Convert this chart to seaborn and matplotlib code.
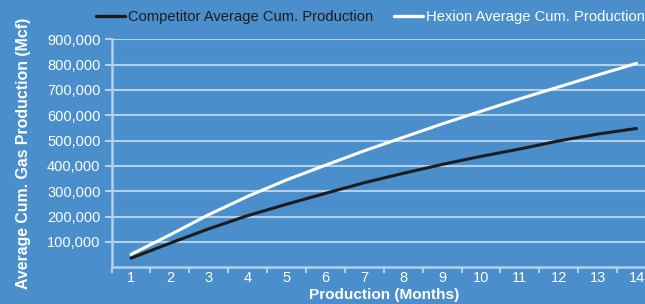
import matplotlib
matplotlib.use("Agg")
import matplotlib.pyplot as plt
import seaborn as sns
import pandas as pd
from matplotlib.ticker import FuncFormatter

months = list(range(1, 15))
competitor = [36000, 95000, 152000, 204000, 249000, 292000, 334000, 371000, 406000, 438000, 467000, 499000, 526000, 548000]
hexion = [51000, 128000, 208000, 280000, 345000, 403000, 460000, 513000, 566000, 616000, 665000, 712000, 759000, 805000]
series_names = ["Competitor Average Cum. Production", "Hexion Average Cum. Production"]
y_ticks = [100000, 200000, 300000, 400000, 500000, 600000, 700000, 800000, 900000]

BG = "#4a8fcb"
GRID = "#b3cfea"
FONT = ["Liberation Sans", "DejaVu Sans"]

df = pd.DataFrame({
    "Month": months * 2,
    "Value": competitor + hexion,
    "Series": [series_names[0]] * len(months) + [series_names[1]] * len(months),
})

sns.set_theme(style="white")
plt.rcParams["font.family"] = FONT

fig = plt.figure(figsize=(6.45, 3.04), dpi=100)
fig.patch.set_facecolor(BG)
ax = fig.add_axes([0.173, 0.1207, 0.844, 0.75])
ax.set_facecolor(BG)

for y in y_ticks:
    ax.axhline(y, color=GRID, lw=1.5, zorder=0)

sns.lineplot(data=df, x="Month", y="Value", hue="Series",
             palette={series_names[0]: "#1c1c1c", series_names[1]: "white"},
             linewidth=2.2, ax=ax, legend=True, zorder=3)

ax.set_xlim(0.5, 14.5)
ax.set_ylim(0, 900000)
ax.set_xticks(months)
ax.set_xticks([m + 0.5 for m in range(0, 14)], minor=True)
ax.set_yticks(y_ticks)
ax.yaxis.set_major_formatter(FuncFormatter(lambda v, p: f"{int(v):,}"))

ax.tick_params(axis="x", which="major", length=0, pad=3, labelsize=10.5, labelcolor="white")
ax.tick_params(axis="x", which="minor", length=4, width=1.5, color=GRID, direction="out")
ax.tick_params(axis="y", which="major", length=5, width=1.5, color=GRID, direction="out",
               pad=3, labelsize=10.5, labelcolor="white")
ax.tick_params(left=True, bottom=False)
ax.xaxis.set_tick_params(which="minor", bottom=True)

for s in ["top", "right"]:
    ax.spines[s].set_visible(False)
for s in ["left", "bottom"]:
    ax.spines[s].set_color(GRID)
    ax.spines[s].set_linewidth(1.8)

ax.set_xlabel("Production (Months)", color="white", fontsize=11.1, fontweight="bold", labelpad=2)
ax.set_ylabel("Average Cum. Gas Production (Mcf)", color="white", fontsize=11.4, fontweight="bold")
ax.yaxis.set_label_coords(-0.148, 0.5)

leg = ax.legend(loc="center left", bbox_to_anchor=(-0.029, 1.097), ncol=2, frameon=False,
                fontsize=10.6, handlelength=1.95, handletextpad=0.25, columnspacing=1.4,
                borderaxespad=0, borderpad=0)
for t, c in zip(leg.get_texts(), ["#1c1c1c", "white"]):
    t.set_color(c)
for h in leg.get_lines():
    h.set_linewidth(2.4)

fig.savefig("out.png", dpi=100, facecolor=BG)
